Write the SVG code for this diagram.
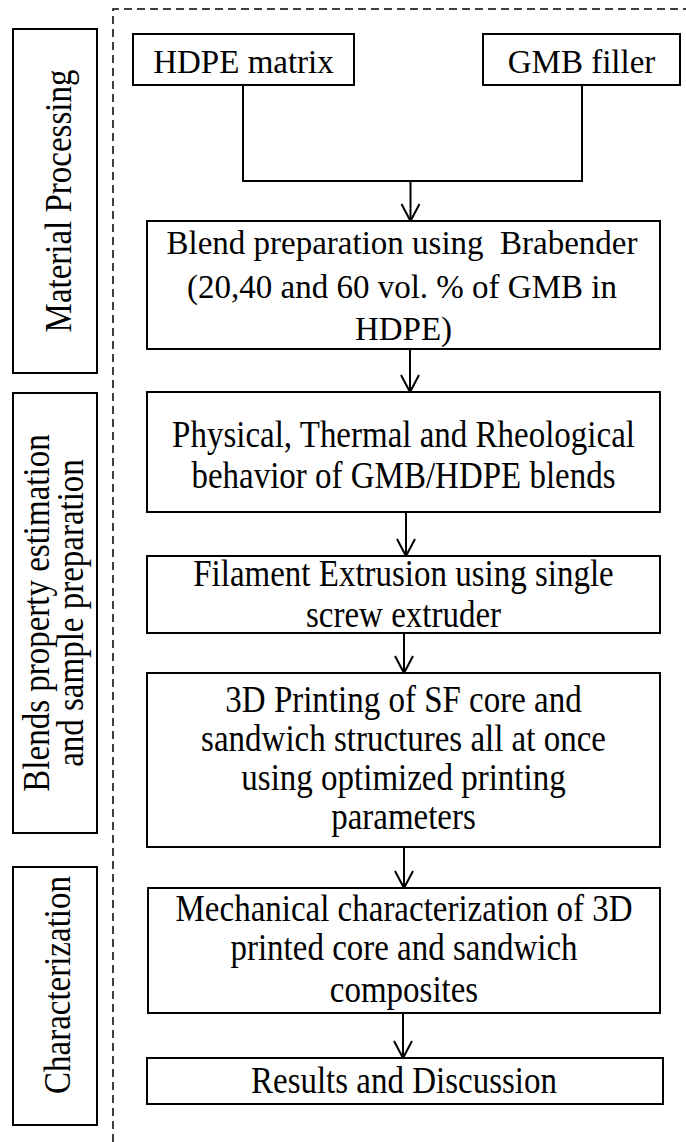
<svg xmlns="http://www.w3.org/2000/svg" width="686" height="1142" viewBox="0 0 686 1142">
<style>
  .box { fill: #ffffff; stroke: #000000; stroke-width: 2; }
  .lbl { fill: none; stroke: #000000; stroke-width: 2; }
  .t { font-family: 'Liberation Serif', 'DejaVu Serif', serif; font-size: 33px; fill: #000000; text-anchor: middle; }
  .c { font-family: 'Liberation Serif', 'DejaVu Serif', serif; font-size: 38px; fill: #000000; text-anchor: middle; }
  .conn { fill: none; stroke: #000000; stroke-width: 2; }
  .dash { fill: none; stroke: #000000; stroke-width: 1.5; stroke-dasharray: 8 5; }
</style>
<defs>
  <marker id="arr" markerUnits="userSpaceOnUse" markerWidth="20" markerHeight="20" refX="0" refY="0" orient="auto" overflow="visible">
    <path d="M-17,-9 L0,0 L-17,9" fill="none" stroke="#000000" stroke-width="2"/>
  </marker>
</defs>
<rect width="686" height="1142" fill="#ffffff"/>

<g id="divider">
  <path class="dash" d="M113,1142 L113,9 L686,9"/>
</g>

<g id="stage-material">
  <rect class="lbl" x="13" y="29" width="84" height="344"/>
  <text class="c" transform="translate(71,201) rotate(-90) scale(0.868,1)">Material Processing</text>
</g>
<g id="stage-blends">
  <rect class="lbl" x="13" y="393" width="84" height="440"/>
  <text class="c" transform="translate(49,613) rotate(-90) scale(0.868,1)">Blends property estimation</text>
  <text class="c" transform="translate(83,613) rotate(-90) scale(0.868,1)">and sample preparation</text>
</g>
<g id="stage-char">
  <rect class="lbl" x="13" y="867" width="84" height="258"/>
  <text class="c" transform="translate(70,985) rotate(-90) scale(0.868,1)">Characterization</text>
</g>

<g id="connectors">
  <path class="conn" d="M243,85 L243,181 L582,181 L582,85"/>
  <path class="conn" d="M410.5,181 L410.5,221" marker-end="url(#arr)"/>
  <path class="conn" d="M410,349 L410,392" marker-end="url(#arr)"/>
  <path class="conn" d="M406,512 L406,556" marker-end="url(#arr)"/>
  <path class="conn" d="M404,633 L404,673" marker-end="url(#arr)"/>
  <path class="conn" d="M404,847 L404,888" marker-end="url(#arr)"/>
  <path class="conn" d="M403,1013 L403,1058" marker-end="url(#arr)"/>
</g>

<g id="hdpe">
  <rect class="box" x="133" y="34" width="221" height="51"/>
  <text class="t" x="243.5" y="73">HDPE matrix</text>
</g>
<g id="gmb">
  <rect class="box" x="483" y="34" width="197" height="51"/>
  <text class="t" x="581.5" y="73">GMB filler</text>
</g>
<g id="blend">
  <rect class="box" x="147" y="221" width="513" height="128"/>
  <text class="t" x="402" y="254" xml:space="preserve">Blend preparation using  Brabender</text>
  <text class="t" x="402" y="298">(20,40 and 60 vol. % of GMB in</text>
  <text class="t" x="403.5" y="340">HDPE)</text>
</g>
<g id="physical">
  <rect class="box" x="147" y="392" width="513" height="120"/>
  <text class="c" transform="translate(403.5,447) scale(0.868,1)">Physical, Thermal and Rheological</text>
  <text class="c" transform="translate(403.5,488) scale(0.868,1)">behavior of GMB/HDPE blends</text>
</g>
<g id="filament">
  <rect class="box" x="147" y="556" width="513" height="77"/>
  <text class="c" transform="translate(403.5,586) scale(0.868,1)">Filament Extrusion using single</text>
  <text class="c" transform="translate(403.5,627) scale(0.868,1)">screw extruder</text>
</g>
<g id="printing">
  <rect class="box" x="147" y="673" width="513" height="174"/>
  <text class="c" transform="translate(403.5,712) scale(0.868,1)">3D Printing of SF core and</text>
  <text class="c" transform="translate(403.5,751) scale(0.868,1)">sandwich structures all at once</text>
  <text class="c" transform="translate(403.5,790) scale(0.868,1)">using optimized printing</text>
  <text class="c" transform="translate(403.5,829) scale(0.868,1)">parameters</text>
</g>
<g id="mechanical">
  <rect class="box" x="148" y="888" width="512" height="125"/>
  <text class="c" transform="translate(404,921) scale(0.868,1)">Mechanical characterization of 3D</text>
  <text class="c" transform="translate(404,960) scale(0.868,1)">printed core and sandwich</text>
  <text class="c" transform="translate(404,1002) scale(0.868,1)">composites</text>
</g>
<g id="results">
  <rect class="box" x="147" y="1058" width="516" height="46"/>
  <text class="c" transform="translate(404,1093) scale(0.868,1)">Results and Discussion</text>
</g>
</svg>
